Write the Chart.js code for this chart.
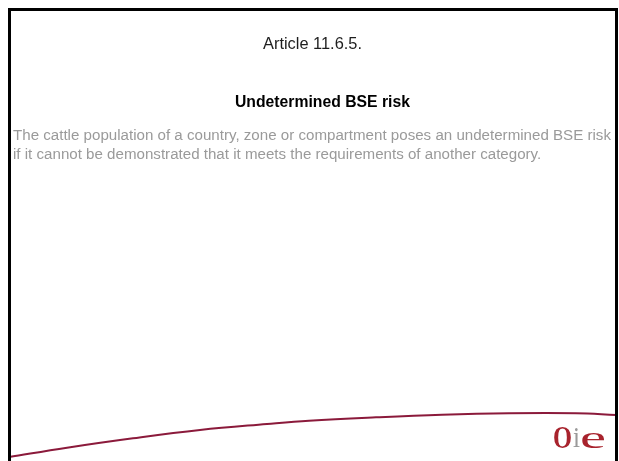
<!DOCTYPE html>
<html>
<head>
<meta charset="utf-8">
<script src="https://cdn.jsdelivr.net/npm/chart.js@4.4.0/dist/chart.umd.min.js"></script>
<style>
  html, body { margin: 0; padding: 0; background: #fff; width: 619px; height: 461px; overflow: hidden; }
  #wrap { position: absolute; left: 0; top: 0; width: 619px; height: 461px; }
  #c { position: absolute; left: 0; top: 0; }
  #frame { position: absolute; left: 8px; top: 8px; width: 610px; height: 480px; box-sizing: border-box;
           border: 3px solid #000; z-index: 2; pointer-events: none; }
  .t { position: absolute; white-space: nowrap; display: inline-block; transform-origin: left top;
       font-family: "Liberation Sans", Arial, sans-serif; z-index: 3; }
  .logo { position: absolute; white-space: nowrap; display: inline-block; transform-origin: left top;
          font-family: "Liberation Serif", "Times New Roman", serif; z-index: 3; }
</style>
</head>
<body>
<div id="wrap">
  <canvas id="c" width="619" height="461"></canvas>
  <div id="frame"></div>
  <span class="t" id="article"></span>
  <span class="t" id="title"></span>
  <span class="t" id="body1"></span>
  <span class="t" id="body2"></span>
  <span class="logo" id="logoO">O</span>
  <span class="logo" id="logoI">i</span>
  <span class="logo" id="logoE">e</span>
</div>
<script>
// ---- data ----
const articleLabel = "Article 11.6.5.";
const titleText = "Undetermined BSE risk";
const bodyLines = [
  "The cattle population of a country, zone or compartment poses an undetermined BSE risk",
  "if it cannot be demonstrated that it meets the requirements of another category."
];
// decorative swoosh curve (page units, y measured downward)
const curveX = [9, 67, 133, 200, 267, 309, 376, 442, 509, 576, 616];
const curveY = [457, 447.7, 438.3, 430, 424, 420.7, 417.3, 414.7, 413.3, 413.3, 415];

// ---- text layout ----
function place(id, text, x, baseline, fs, targetW, opts) {
  const el = document.getElementById(id);
  if (text !== null) el.textContent = text;
  el.style.fontSize = fs + 'px';
  el.style.lineHeight = fs + 'px';
  if (opts && opts.weight) el.style.fontWeight = opts.weight;
  if (opts && opts.color) el.style.color = opts.color;
  const w = el.getBoundingClientRect().width;
  const s = (opts && opts.scale) ? opts.scale : (targetW ? targetW / w : 1);
  el.style.transform = 'scaleX(' + s + ')';
  el.style.left = x + 'px';
  const k = (opts && opts.serif) ? 0.8535 : 0.8465;
  el.style.top = (baseline - k * fs) + 'px';
  return s;
}
place('article', articleLabel, 263, 49, 17, 99, { color: '#1e1e1e' });
place('title', titleText, 235, 107, 17, 175, { weight: 'bold', color: '#000' });
const bs = place('body1', bodyLines[0], 13, 140, 15.5, 598, { color: '#9a9a9a' });
place('body2', bodyLines[1], 13, 159, 15.5, null, { color: '#9a9a9a', scale: bs });
place('logoO', null, 553, 448, 32, 19, { weight: 'bold', color: '#a8232d', serif: true });
place('logoI', null, 573, 448, 29, 7, { color: '#9a9a9a', serif: true });
place('logoE', null, 580, 448, 32, 26, { color: '#a8232d', serif: true });

// ---- chart ----
const pts = curveX.map((x, i) => ({ x: x, y: curveY[i] }));
new Chart(document.getElementById('c'), {
  type: 'scatter',
  data: {
    datasets: [{
      data: pts,
      showLine: true,
      borderColor: '#8b1a3b',
      borderWidth: 2,
      pointRadius: 0,
      tension: 0.4,
      fill: false
    }]
  },
  options: {
    responsive: false,
    animation: false,
    devicePixelRatio: 1,
    layout: { padding: 0 },
    plugins: { legend: { display: false }, tooltip: { enabled: false }, title: { display: false } },
    scales: {
      x: { type: 'linear', min: 0, max: 619, display: false },
      y: { type: 'linear', min: 0, max: 461, reverse: true, display: false }
    }
  }
});
</script>
</body>
</html>
